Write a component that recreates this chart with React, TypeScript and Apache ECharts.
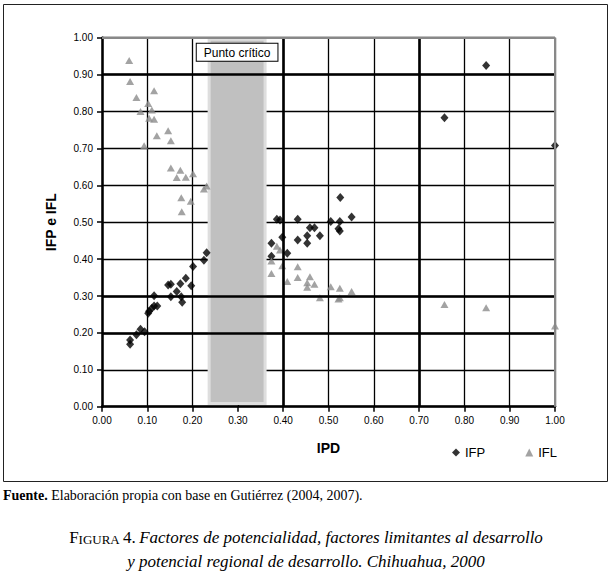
import React, { useEffect, useRef } from "react";
import * as echarts from "echarts";

const SANS = "'Liberation Sans', Arial, sans-serif";
const SERIF = "'Liberation Serif', 'DejaVu Serif', serif";

// IFP (black diamonds): [IPD, IFP]
const ifpPoints: number[][] = [
  [0.062, 0.181], [0.062, 0.169], [0.076, 0.195], [0.085, 0.21], [0.094, 0.203],
  [0.102, 0.253], [0.104, 0.259], [0.11, 0.267], [0.115, 0.273], [0.122, 0.273],
  [0.115, 0.301], [0.146, 0.33], [0.152, 0.332], [0.152, 0.298], [0.165, 0.312],
  [0.173, 0.333], [0.175, 0.298], [0.177, 0.283], [0.185, 0.348], [0.197, 0.328],
  [0.201, 0.38], [0.225, 0.397], [0.231, 0.417],
  [0.374, 0.408], [0.374, 0.443], [0.386, 0.508], [0.393, 0.506], [0.398, 0.459],
  [0.409, 0.416], [0.432, 0.508], [0.432, 0.452], [0.453, 0.463], [0.453, 0.443],
  [0.459, 0.485], [0.469, 0.485], [0.481, 0.463], [0.505, 0.502], [0.522, 0.482],
  [0.525, 0.476], [0.525, 0.502], [0.526, 0.567], [0.551, 0.514],
  [0.756, 0.783], [0.848, 0.925], [1.0, 0.708],
];

// IFL (grey triangles): [IPD, IFL]
const iflPoints: number[][] = [
  [0.06, 0.938], [0.062, 0.881], [0.076, 0.838], [0.085, 0.8], [0.093, 0.707],
  [0.102, 0.822], [0.104, 0.782], [0.11, 0.804], [0.115, 0.779], [0.115, 0.856],
  [0.121, 0.734], [0.146, 0.748], [0.152, 0.721], [0.152, 0.647], [0.165, 0.621],
  [0.173, 0.641], [0.175, 0.566], [0.176, 0.528], [0.185, 0.622], [0.196, 0.557],
  [0.201, 0.631], [0.225, 0.59], [0.231, 0.598],
  [0.374, 0.395], [0.374, 0.361], [0.386, 0.435], [0.393, 0.425], [0.398, 0.382],
  [0.409, 0.339], [0.432, 0.379], [0.432, 0.35], [0.453, 0.336], [0.453, 0.324],
  [0.459, 0.352], [0.469, 0.332], [0.481, 0.295], [0.505, 0.325], [0.522, 0.292],
  [0.525, 0.321], [0.525, 0.295], [0.551, 0.312],
  [0.756, 0.277], [0.848, 0.268], [1.0, 0.219],
];

const criticalBandX = [0.2365, 0.36];
const criticalBandY = [0.0087, 0.996];
const criticalLabel = "Punto crítico";
const thickHLines = [0.2, 0.3, 0.9];
const thickVLines = [0.4, 0.7];

const footnoteText = "{b|Fuente.} Elaboración propia con base en Gutiérrez (2004, 2007).";
const captionLine1 =
  "{big|F}{sc|IGURA} {big|4.} {i|Factores de potencialidad, factores limitantes al desarrollo}";
const captionLine2 = "{i|y potencial regional de desarrollo. Chihuahua, 2000}";

export default function App() {
  const ref = useRef<HTMLDivElement>(null);

  useEffect(() => {
    if (!ref.current) return;
    const chart = echarts.init(ref.current, null, { renderer: "svg" });

    const fmt = (v: number) => v.toFixed(2);
    const axisCommon = {
      type: "value",
      min: 0,
      max: 1,
      interval: 0.1,
      nameLocation: "middle",
      nameTextStyle: { fontFamily: SANS, fontSize: 14, fontWeight: "bold", color: "#000" },
      axisLine: { show: true, onZero: false, lineStyle: { color: "#000", width: 2.5 } },
      axisTick: { show: true, length: 5, lineStyle: { color: "#000", width: 1.5 } },
      axisLabel: { formatter: fmt, fontFamily: SANS, fontSize: 10, color: "#000" },
      splitLine: { show: true, lineStyle: { color: "#000", width: 1.3 } },
    };

    const capRich = {
      big: { fontFamily: SERIF, fontSize: 17, fill: "#000", verticalAlign: "bottom" },
      sc: { fontFamily: SERIF, fontSize: 13, fill: "#000", verticalAlign: "bottom" },
      i: { fontFamily: SERIF, fontSize: 17, fontStyle: "italic", fill: "#000", verticalAlign: "bottom" },
    };

    chart.setOption({
      animation: false,
      backgroundColor: "#fff",
      grid: { left: 102, right: 57, top: 37.7, bottom: 166.3 },
      xAxis: {
        ...axisCommon,
        name: "IPD",
        nameGap: 34,
        axisLabel: { ...axisCommon.axisLabel, margin: 9 },
      },
      yAxis: {
        ...axisCommon,
        name: "IFP e IFL",
        nameGap: 44,
        axisLabel: { ...axisCommon.axisLabel, margin: 9 },
      },
      legend: {
        data: [
          { name: "IFP", icon: "diamond" },
          { name: "IFL", icon: "triangle" },
        ],
        left: 452,
        top: 446,
        padding: 0,
        itemWidth: 8,
        itemHeight: 8,
        itemGap: 40,
        textStyle: { fontFamily: SANS, fontSize: 13, color: "#000" },
      },
      series: [
        {
          type: "scatter",
          name: "_grid",
          data: [],
          z: 2,
          silent: true,
          markLine: {
            symbol: "none",
            silent: true,
            animation: false,
            label: { show: false },
            lineStyle: { color: "#000", width: 2.6, type: "solid" },
            data: [
              ...thickHLines.map((v) => ({ yAxis: v })),
              ...thickVLines.map((v) => ({ xAxis: v })),
              { yAxis: 1, lineStyle: { color: "#888", width: 2, type: "solid" } },
              { xAxis: 1, lineStyle: { color: "#888", width: 2, type: "solid" } },
            ],
          },
        },
        {
          type: "scatter",
          name: "IFP",
          data: ifpPoints,
          symbol: "diamond",
          symbolSize: [8, 9],
          itemStyle: { color: "#000" },
          z: 3,
        },
        {
          type: "scatter",
          name: "IFL",
          data: iflPoints,
          symbol: "triangle",
          symbolSize: [8, 7],
          itemStyle: { color: "#8c8c8c" },
          z: 3,
        },
        {
          type: "scatter",
          name: "_band",
          data: [],
          z: 5,
          silent: true,
          markArea: {
            silent: true,
            animation: false,
            itemStyle: { color: "#c0c0c0", borderColor: "#dedede", borderWidth: 3 },
            label: {
              show: true,
              position: "insideTop",
              distance: 6,
              formatter: criticalLabel,
              backgroundColor: "#fff",
              borderColor: "#000",
              borderWidth: 1,
              padding: [3, 7, 2, 7],
              fontFamily: SANS,
              fontSize: 12,
              color: "#000",
            },
            data: [
              [
                { xAxis: criticalBandX[0], yAxis: criticalBandY[0] },
                { xAxis: criticalBandX[1], yAxis: criticalBandY[1] },
              ],
            ],
          },
        },
      ],
      graphic: [
        {
          type: "rect",
          shape: { x: 3.5, y: 4.5, width: 604, height: 477 },
          style: { fill: "none", stroke: "#222", lineWidth: 1 },
          silent: true,
        },
        {
          type: "text",
          x: 3,
          y: 495,
          style: {
            text: footnoteText,
            fontFamily: SERIF,
            fontSize: 14,
            fill: "#000",
            verticalAlign: "middle",
            rich: {
              b: { fontFamily: SERIF, fontSize: 14, fontWeight: "bold", fill: "#000" },
            },
          },
          silent: true,
        },
        {
          type: "text",
          x: 306,
          y: 537,
          style: { text: captionLine1, align: "center", verticalAlign: "middle", rich: capRich },
          silent: true,
        },
        {
          type: "text",
          x: 306,
          y: 561,
          style: { text: captionLine2, align: "center", verticalAlign: "middle", rich: capRich },
          silent: true,
        },
      ],
    });

    return () => chart.dispose();
  }, []);

  return (
    <div
      ref={ref}
      style={{ position: "fixed", left: 0, top: 0, width: 612, height: 573, background: "#fff" }}
    />
  );
}
